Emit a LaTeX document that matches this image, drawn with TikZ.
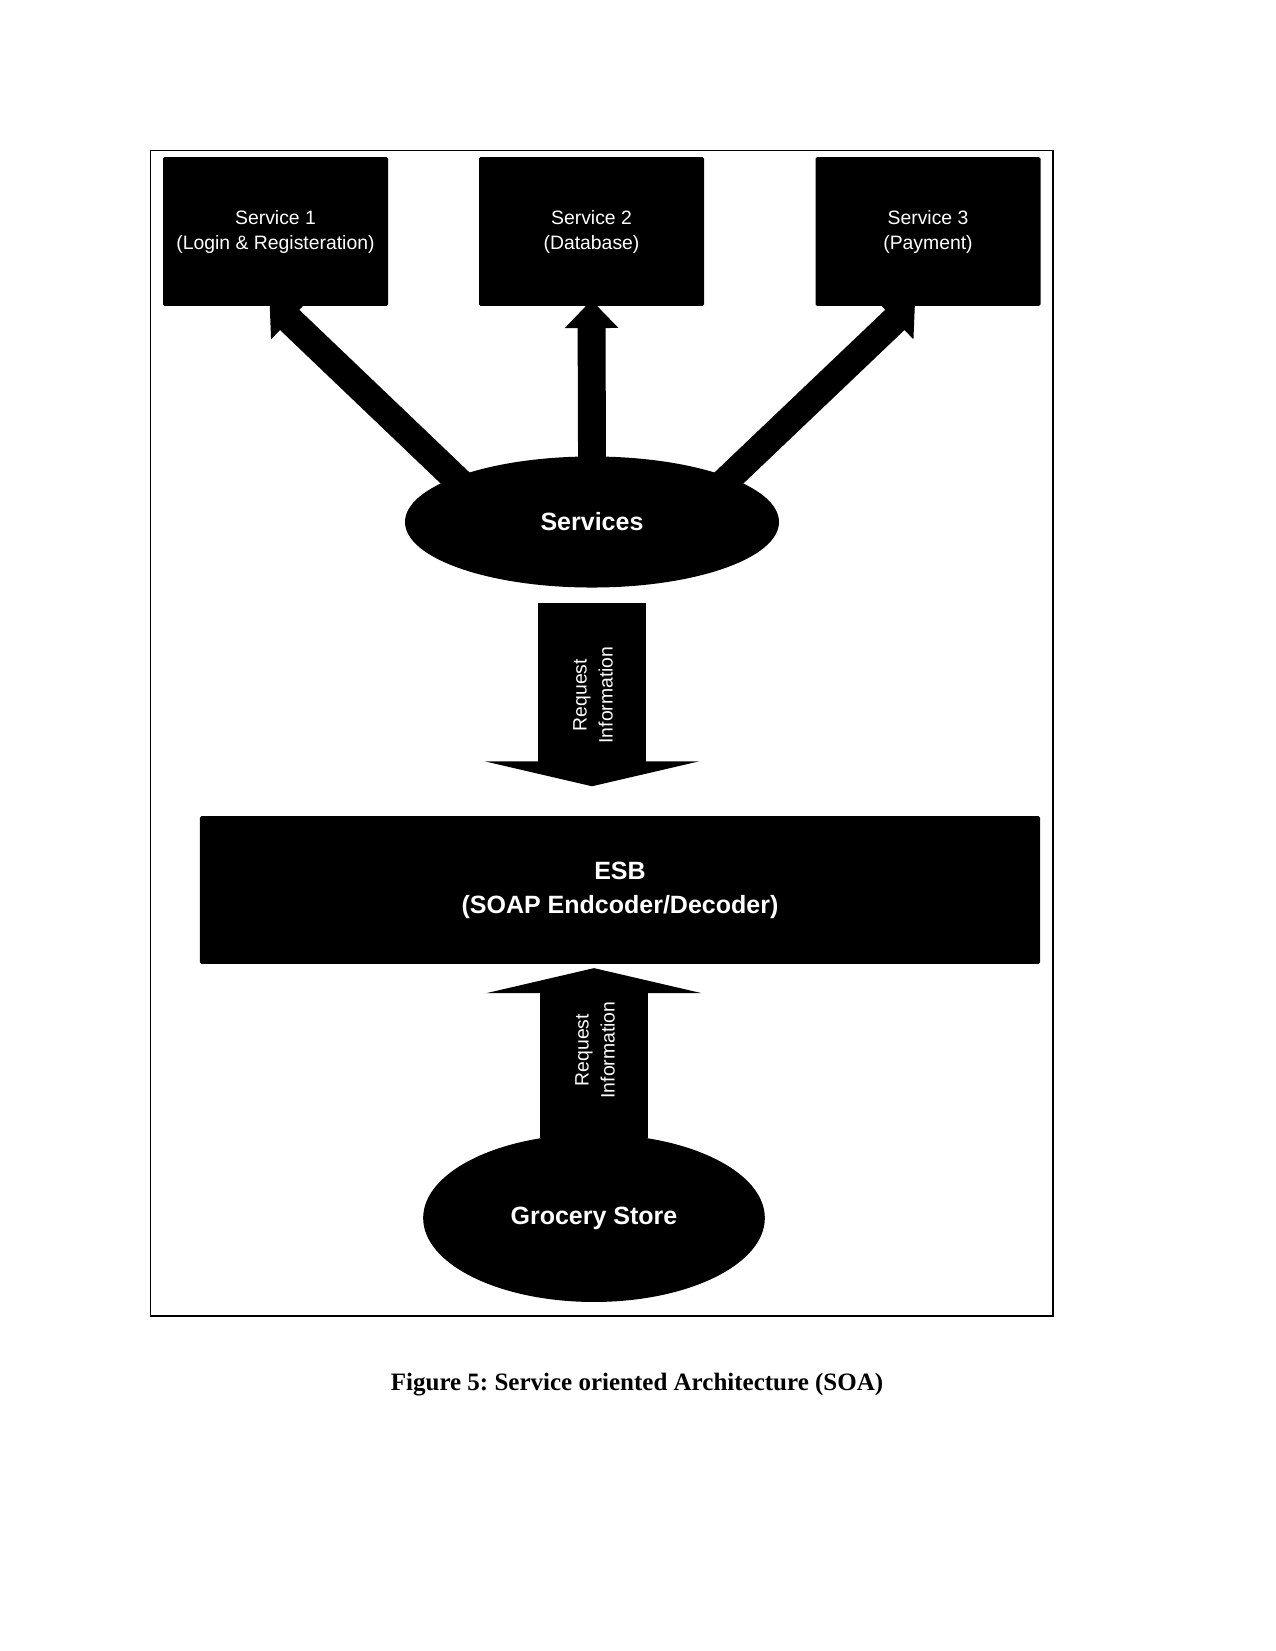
\documentclass[tikz,border=0pt]{standalone}
\usepackage{fontspec}
\setmainfont{Liberation Serif}
\setsansfont{Liberation Sans}
\usetikzlibrary{shapes.geometric,arrows.meta}
\frenchspacing
\begin{document}
\begin{tikzpicture}[x=0.48pt,y=-0.48pt,
  svcbox/.style={fill=black, draw=none, text=white, rounded corners=0.8pt,
    minimum width=108pt, minimum height=71.5pt, inner sep=0pt, align=center,
    font=\sffamily\fontsize{9.3}{12}\selectfont},
  hub/.style={ellipse, fill=black, draw=none, text=white, inner sep=0pt,
    font=\sffamily\bfseries\fontsize{12}{14}\selectfont},
  bus/.style={fill=black, draw=none, text=white, rounded corners=0.8pt,
    minimum width=403.2pt, minimum height=71pt, inner sep=0pt, align=center,
    font=\sffamily\bfseries\fontsize{12}{16.3}\selectfont},
  link/.style={draw=black, line width=13.4pt, -{Triangle[width=25pt,length=13.4pt]}},
  flow/.style={draw=black, line width=51.5pt, -{Triangle[width=103pt,length=12pt]}},
  flowlabel/.style={text=white, rotate=90, align=center, inner sep=0pt,
    font=\sffamily\fontsize{9.3}{12.5}\selectfont},
  caption/.style={anchor=base, inner sep=0pt, font=\bfseries\fontsize{12}{14}\selectfont}
]
\useasboundingbox (0,0) rectangle (1275,1651);
\draw[line width=0.8pt] (150.6,150.6) rectangle (1052.8,1316);

\node[svcbox] (s1) at (275.5,231.5) {Service 1\\(Login \& Registeration)};
\node[svcbox] (s2) at (591.5,231.5) {Service 2\\(Database)};
\node[svcbox] (s3) at (928,231.5) {Service 3\\(Payment)};

\node[hub, minimum width=179.5pt, minimum height=62.9pt] (services) at (592,522) {Services};
\node[bus] (esb) at (620,890) {ESB\\(SOAP Endcoder/Decoder)};
\node[hub, minimum width=164pt, minimum height=80.6pt] (grocery) at (594,1218) {Grocery Store};

\draw[link, shorten <=-8pt, shorten >=-4pt] (services.162) -- (s1.south);
\draw[link, shorten <=-4pt, shorten >=-3pt] (services.north) -- (s2.south);
\draw[link, shorten <=-8pt, shorten >=-4pt] (services.18) -- ([xshift=-9.1pt]s3.south);

\draw[flow, shorten <=7.3pt, shorten >=14.1pt] (services.south) -- (services.south |- esb.north);
\draw[flow, shorten <=-2pt, shorten >=1.8pt] (grocery.north) -- (grocery.north |- esb.south);

\node[flowlabel] (lbl1) at (593,695) {Request\\Information};
\node[flowlabel] (lbl2) at (595,1050) {Request\\Information};

\node[caption] (cap) at (637,1390) {Figure 5: Service oriented Architecture (SOA)};
\end{tikzpicture}
\end{document}
